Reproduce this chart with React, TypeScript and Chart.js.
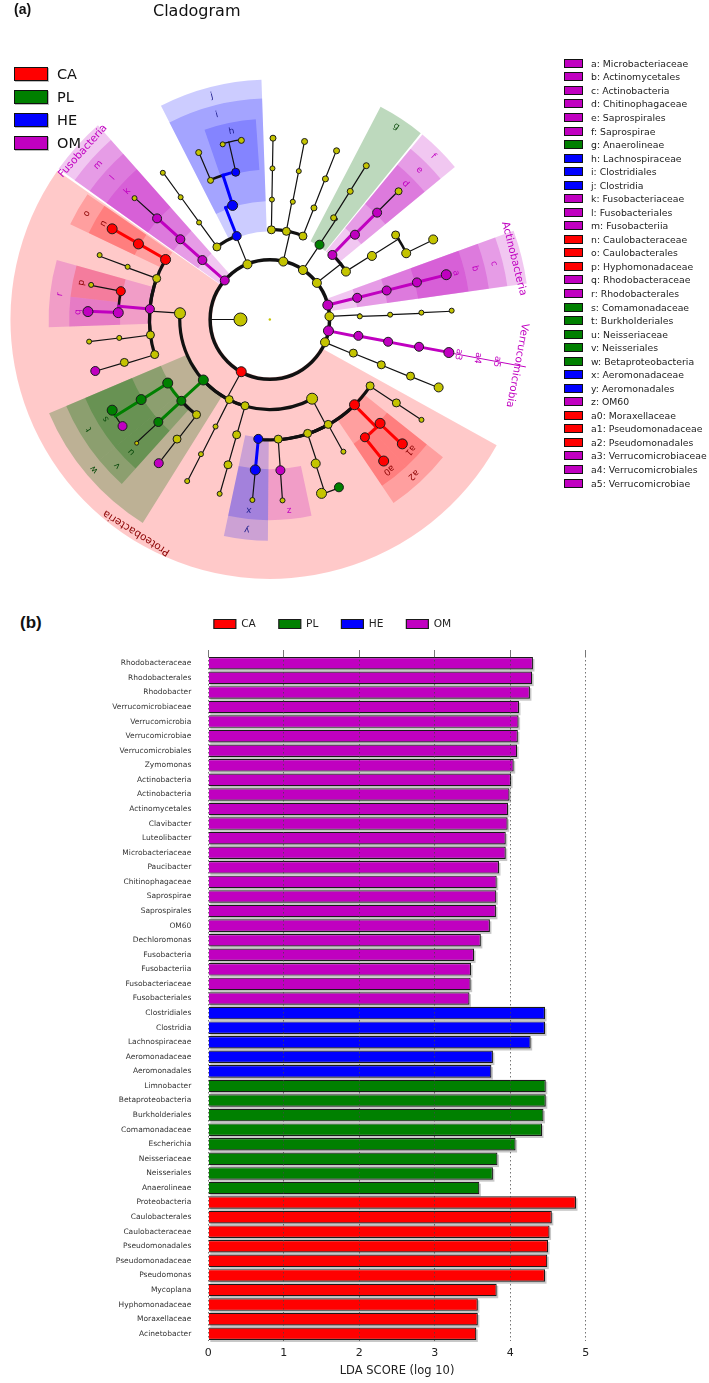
import React, { useEffect, useRef } from "react";
import { Chart, registerables } from "chart.js";

Chart.register(...registerables);

const FONT = "'DejaVu Sans', 'Liberation Sans', sans-serif";

// ---------------- panel (b): LDA scores ----------------
const groupNames = ["CA", "PL", "HE", "OM"];
const groupColors = ["#ff0000", "#008000", "#0000ff", "#c000c0"];

const omTaxa = [
  "Rhodobacteraceae", "Rhodobacterales", "Rhodobacter", "Verrucomicrobiaceae",
  "Verrucomicrobia", "Verrucomicrobiae", "Verrucomicrobiales", "Zymomonas",
  "Actinobacteria", "Actinobacteria", "Actinomycetales", "Clavibacter",
  "Luteolibacter", "Microbacteriaceae", "Paucibacter", "Chitinophagaceae",
  "Saprospirae", "Saprospirales", "OM60", "Dechloromonas", "Fusobacteria",
  "Fusobacteriia", "Fusobacteriaceae", "Fusobacteriales",
];
const omScores = [
  4.30, 4.29, 4.26, 4.115, 4.11, 4.10, 4.09, 4.045, 4.01, 3.99, 3.97, 3.965,
  3.94, 3.94, 3.85, 3.82, 3.815, 3.81, 3.73, 3.61, 3.52, 3.48, 3.475, 3.46,
];
const heTaxa = ["Clostridiales", "Clostridia", "Lachnospiraceae", "Aeromonadaceae", "Aeromonadales"];
const heScores = [4.46, 4.46, 4.27, 3.77, 3.75];
const plTaxa = [
  "Limnobacter", "Betaproteobacteria", "Burkholderiales", "Comamonadaceae",
  "Escherichia", "Neisseriaceae", "Neisseriales", "Anaerolineae",
];
const plScores = [4.47, 4.47, 4.44, 4.42, 4.07, 3.83, 3.77, 3.59];
const caTaxa = [
  "Proteobacteria", "Caulobacterales", "Caulobacteraceae", "Pseudomonadales",
  "Pseudomonadaceae", "Pseudomonas", "Mycoplana", "Hyphomonadaceae",
  "Moraxellaceae", "Acinetobacter",
];
const caScores = [4.87, 4.55, 4.52, 4.50, 4.49, 4.46, 3.82, 3.57, 3.57, 3.55];
const ldaMin = 0;
const ldaMax = 5;
const ldaStep = 1;

// ---------------- panel (a): cladogram ----------------
// radius of each taxonomic level (root, kingdom, phylum, class, order, family, genus)
const levelRadius = [0, 30, 61, 92, 123, 155, 186];
const wedgeOuterRadius = [0, 0, 265, 245, 226, 205, 190];
const labelRadius = [0, 0, 257, 236, 216, 196, 180];

// [id, parent, level, angle (deg, clockwise from east), group, node size]
const cladeNodes: [string, string, number, number, string, number][] = [
  ["root", "", 0, 0, "", 1.2],
  ["Bacteria", "root", 1, 180, "", 6.5],
  ["Proteobacteria", "Bacteria", 2, 118.6, "CA", 5],
  ["Fusobacteria", "Bacteria", 2, 221, "OM", 4.5],
  ["Firmicutes", "Bacteria", 2, 248, "", 4.5],
  ["phylumA", "Bacteria", 2, 283, "", 4.5],
  ["Chloroflexi", "Bacteria", 2, 303.7, "", 4.5],
  ["Bacteroidetes", "Bacteria", 2, 322, "", 4.5],
  ["Actinobacteria", "Bacteria", 2, 346, "OM", 5],
  ["phylumB", "Bacteria", 2, 357, "", 4.5],
  ["Verrucomicrobia", "Bacteria", 2, 11, "OM", 5],
  ["phylumC", "Bacteria", 2, 22.5, "", 4.5],

  ["Alphaproteobacteria", "Proteobacteria", 3, 184, "", 5.5],
  ["Betaproteobacteria", "Proteobacteria", 3, 137.6, "PL", 5],
  ["Deltaproteobacteria", "Proteobacteria", 3, 116.8, "", 4],
  ["classE", "Proteobacteria", 3, 106, "", 4],
  ["Gammaproteobacteria", "Proteobacteria", 3, 62, "", 5.5],
  ["Fusobacteriia", "Fusobacteria", 3, 221.5, "OM", 4.5],
  ["Bacilli", "Firmicutes", 3, 234, "", 4],
  ["Clostridia", "Firmicutes", 3, 248.4, "HE", 4.5],
  ["classA1", "phylumA", 3, 271, "", 4],
  ["classA2", "phylumA", 3, 280.6, "", 4],
  ["classA3", "phylumA", 3, 291.6, "", 4],
  ["Anaerolineae", "Chloroflexi", 3, 303.5, "PL", 4.5],
  ["Saprospirae", "Bacteroidetes", 3, 314, "OM", 4.5],
  ["classB2", "Bacteroidetes", 3, 327.7, "", 4.5],
  ["Actinobacteria_c", "Actinobacteria", 3, 346, "OM", 4.5],
  ["classPB", "phylumB", 3, 358, "", 2.5],
  ["Verrucomicrobiae", "Verrucomicrobia", 3, 10.5, "OM", 4.5],
  ["classPC", "phylumC", 3, 22, "", 4],

  ["Caulobacterales", "Alphaproteobacteria", 4, 210, "CA", 5],
  ["orderA2", "Alphaproteobacteria", 4, 200, "", 4],
  ["Rhodobacterales", "Alphaproteobacteria", 4, 185, "OM", 4.5],
  ["orderA4", "Alphaproteobacteria", 4, 172.6, "", 4],
  ["orderA5", "Alphaproteobacteria", 4, 163, "", 4],
  ["Burkholderiales", "Betaproteobacteria", 4, 148, "PL", 5],
  ["Neisseriales", "Betaproteobacteria", 4, 137.3, "PL", 4.5],
  ["orderB3", "Betaproteobacteria", 4, 127.5, "", 4],
  ["orderD", "Deltaproteobacteria", 4, 116.8, "", 2.5],
  ["orderE", "classE", 4, 106, "", 4],
  ["Aeromonadales", "Gammaproteobacteria", 4, 95.5, "HE", 4.5],
  ["orderG2", "Gammaproteobacteria", 4, 86, "", 4],
  ["orderG3", "Gammaproteobacteria", 4, 71.7, "", 4],
  ["orderG4", "Gammaproteobacteria", 4, 61, "", 4],
  ["Pseudomonadales", "Gammaproteobacteria", 4, 45.3, "CA", 5],
  ["orderG6", "Gammaproteobacteria", 4, 33.6, "", 4],
  ["Fusobacteriales", "Fusobacteriia", 4, 222, "OM", 4.5],
  ["orderBa", "Bacilli", 4, 234, "", 2.5],
  ["Clostridiales", "Clostridia", 4, 252, "HE", 5],
  ["orderA1", "classA1", 4, 271, "", 2.5],
  ["orderA2x", "classA2", 4, 281, "", 2.5],
  ["orderA3", "classA3", 4, 291.5, "", 3],
  ["orderAn", "Anaerolineae", 4, 302, "", 3],
  ["Saprospirales", "Saprospirae", 4, 315, "OM", 4.5],
  ["orderB2", "classB2", 4, 328, "", 4.5],
  ["Actinomycetales", "Actinobacteria_c", 4, 346, "OM", 4.5],
  ["orderPB", "classPB", 4, 357.7, "", 2.5],
  ["Verrucomicrobiales", "Verrucomicrobiae", 4, 10.7, "OM", 4.5],
  ["orderPC", "classPC", 4, 22.2, "", 4],

  ["Caulobacteraceae", "Caulobacterales", 5, 210, "CA", 5],
  ["familyA2", "orderA2", 5, 200.4, "", 2.5],
  ["Hyphomonadaceae", "Rhodobacterales", 5, 190.8, "CA", 4.5],
  ["Rhodobacteraceae", "Rhodobacterales", 5, 182.6, "OM", 5],
  ["familyA4", "orderA4", 5, 173, "", 2.5],
  ["familyA5", "orderA5", 5, 163.5, "", 4],
  ["Comamonadaceae", "Burkholderiales", 5, 148, "PL", 5],
  ["Neisseriaceae", "Neisseriales", 5, 137.3, "PL", 4.5],
  ["familyB3", "orderB3", 5, 127.7, "", 4],
  ["familyD", "orderD", 5, 117, "", 2.5],
  ["familyE", "orderE", 5, 106, "", 4],
  ["Aeromonadaceae", "Aeromonadales", 5, 95.5, "HE", 5],
  ["OM60", "orderG2", 5, 86, "OM", 4.5],
  ["familyG3", "orderG3", 5, 72.4, "", 4.5],
  ["familyG4", "orderG4", 5, 61, "", 2.5],
  ["Moraxellaceae", "Pseudomonadales", 5, 51.2, "CA", 4.5],
  ["Pseudomonadaceae", "Pseudomonadales", 5, 43.4, "CA", 5],
  ["familyG6", "orderG6", 5, 33.5, "", 4],
  ["Fusobacteriaceae", "Fusobacteriales", 5, 222, "OM", 4.5],
  ["familyBa", "orderBa", 5, 234, "", 2.5],
  ["familyCl2", "Clostridiales", 5, 247, "", 3],
  ["Lachnospiraceae", "Clostridiales", 5, 257, "HE", 4],
  ["familyA1", "orderA1", 5, 271, "", 2.5],
  ["familyA2x", "orderA2x", 5, 281, "", 2.5],
  ["familyA3", "orderA3", 5, 291.5, "", 3],
  ["familyAn", "orderAn", 5, 302, "", 3],
  ["Chitinophagaceae", "Saprospirales", 5, 315, "OM", 4.5],
  ["familyB2a", "orderB2", 5, 326, "", 4],
  ["familyB2b", "orderB2", 5, 334, "", 4.5],
  ["Microbacteriaceae", "Actinomycetales", 5, 345.8, "OM", 4.5],
  ["familyPB", "orderPB", 5, 357.4, "", 2.5],
  ["Verrucomicrobiaceae", "Verrucomicrobiales", 5, 10.4, "OM", 4.5],
  ["familyPC", "orderPC", 5, 22, "", 4],

  ["Mycoplana", "Caulobacteraceae", 6, 210, "CA", 5],
  ["genusA2", "familyA2", 6, 200.8, "", 2.5],
  ["genusHy", "Hyphomonadaceae", 6, 191, "", 2.5],
  ["Rhodobacter", "Rhodobacteraceae", 6, 182.5, "OM", 5],
  ["genusA4", "familyA4", 6, 173, "", 2.5],
  ["Zymomonas", "familyA5", 6, 163.5, "OM", 4.5],
  ["Limnobacter", "Comamonadaceae", 6, 150, "PL", 5],
  ["Paucibacter", "Comamonadaceae", 6, 144, "OM", 4.5],
  ["genusNe", "Neisseriaceae", 6, 137, "", 2],
  ["Dechloromonas", "familyB3", 6, 127.6, "OM", 4.5],
  ["genusD", "familyD", 6, 117, "", 2.5],
  ["genusE", "familyE", 6, 106, "", 2.5],
  ["genusAe", "Aeromonadaceae", 6, 95.5, "", 2.5],
  ["genusOM", "OM60", 6, 86, "", 2.5],
  ["genusG3", "familyG3", 6, 73.5, "", 5],
  ["Escherichia", "familyG3", 6, 67.7, "PL", 4.5],
  ["Acinetobacter", "Moraxellaceae", 6, 51.3, "CA", 5],
  ["Pseudomonas", "Pseudomonadaceae", 6, 43.3, "CA", 5],
  ["genusG6", "familyG6", 6, 33.6, "", 2.5],
  ["genusPC", "familyPC", 6, 22, "", 4.5],
  ["Luteolibacter", "Verrucomicrobiaceae", 6, 10.5, "OM", 5],
  ["genusPB", "familyPB", 6, 357.2, "", 2.5],
  ["Clavibacter", "Microbacteriaceae", 6, 345.7, "OM", 5],
  ["genusB2", "familyB2b", 6, 333.8, "", 4.5],
  ["genusCh", "Chitinophagaceae", 6, 315, "", 3.5],
  ["genusAn", "familyAn", 6, 302, "", 3],
  ["genusA3", "familyA3", 6, 291.5, "", 3],
  ["genusA2x", "familyA2x", 6, 281, "", 3],
  ["genusA1", "familyA1", 6, 271, "", 3],
  ["genusLa1", "Lachnospiraceae", 6, 255, "", 2.5],
  ["genusLa2", "Lachnospiraceae", 6, 261, "", 3],
  ["genusCl2", "familyCl2", 6, 247, "", 3],
  ["genusBa", "familyBa", 6, 234, "", 2.5],
  ["genusFu", "Fusobacteriaceae", 6, 222, "", 2.5],
];

// [node id, label, start angle, end angle]
const cladeWedges: [string, string, number, number][] = [
  ["Proteobacteria", "Proteobacteria", 29, 215],
  ["Fusobacteria", "Fusobacteria", 215.5, 228.5],
  ["Actinobacteria", "Actinobacteria", 340, 352],
  ["Verrucomicrobia", "Verrucomicrobia", 10.5, 10.5],
  ["Fusobacteriia", "m", 215.5, 228.5],
  ["Fusobacteriales", "l", 215.5, 228.5],
  ["Fusobacteriaceae", "k", 215.5, 228.5],
  ["Caulobacterales", "o", 205.5, 214.5],
  ["Caulobacteraceae", "n", 205.5, 214.5],
  ["Rhodobacterales", "r", 178, 195.6],
  ["Hyphomonadaceae", "p", 186.5, 195.6],
  ["Rhodobacteraceae", "q", 178, 186.5],
  ["Betaproteobacteria", "w", 122, 157],
  ["Burkholderiales", "t", 140.5, 157],
  ["Comamonadaceae", "s", 140.5, 157],
  ["Neisseriales", "v", 132, 140.5],
  ["Neisseriaceae", "u", 132, 140.5],
  ["Aeromonadales", "y", 90.5, 102],
  ["Aeromonadaceae", "x", 90.5, 102],
  ["OM60", "z", 78, 90.5],
  ["Pseudomonadales", "a2", 38.5, 56],
  ["Pseudomonadaceae", "a1", 38.5, 47.3],
  ["Moraxellaceae", "a0", 47.3, 56],
  ["Actinobacteria_c", "c", 340, 352],
  ["Actinomycetales", "b", 340, 352],
  ["Microbacteriaceae", "a", 340, 352],
  ["Verrucomicrobiae", "a5", 10.5, 10.5],
  ["Verrucomicrobiales", "a4", 10.5, 10.5],
  ["Verrucomicrobiaceae", "a3", 10.5, 10.5],
  ["Saprospirae", "f", 309.5, 320.5],
  ["Saprospirales", "e", 309.5, 320.5],
  ["Chitinophagaceae", "d", 309.5, 320.5],
  ["Anaerolineae", "g", 297.5, 309],
  ["Clostridia", "j", 243, 268],
  ["Clostridiales", "i", 243, 268],
  ["Lachnospiraceae", "h", 251, 266],
];

// legend of the cladogram letters: [key, taxon, group]
const cladeKey: [string, string, string][] = [
  ["a", "Microbacteriaceae", "OM"], ["b", "Actinomycetales", "OM"],
  ["c", "Actinobacteria", "OM"], ["d", "Chitinophagaceae", "OM"],
  ["e", "Saprospirales", "OM"], ["f", "Saprospirae", "OM"],
  ["g", "Anaerolineae", "PL"], ["h", "Lachnospiraceae", "HE"],
  ["i", "Clostridiales", "HE"], ["j", "Clostridia", "HE"],
  ["k", "Fusobacteriaceae", "OM"], ["l", "Fusobacteriales", "OM"],
  ["m", "Fusobacteriia", "OM"], ["n", "Caulobacteraceae", "CA"],
  ["o", "Caulobacterales", "CA"], ["p", "Hyphomonadaceae", "CA"],
  ["q", "Rhodobacteraceae", "OM"], ["r", "Rhodobacterales", "OM"],
  ["s", "Comamonadaceae", "PL"], ["t", "Burkholderiales", "PL"],
  ["u", "Neisseriaceae", "PL"], ["v", "Neisseriales", "PL"],
  ["w", "Betaproteobacteria", "PL"], ["x", "Aeromonadaceae", "HE"],
  ["y", "Aeromonadales", "HE"], ["z", "OM60", "OM"],
  ["a0", "Moraxellaceae", "CA"], ["a1", "Pseudomonadaceae", "CA"],
  ["a2", "Pseudomonadales", "CA"], ["a3", "Verrucomicrobiaceae", "OM"],
  ["a4", "Verrucomicrobiales", "OM"], ["a5", "Verrucomicrobiae", "OM"],
];

const nodeColor: Record<string, string> = {
  CA: "#ff0000", PL: "#008000", HE: "#0000ff", OM: "#c000c0", "": "#c4c400",
};
const wedgeFill: Record<string, string> = {
  CA: "rgba(255,0,0,0.21)", PL: "rgba(0,110,0,0.26)", HE: "rgba(0,0,255,0.2)", OM: "rgba(192,0,192,0.22)", "": "rgba(0,0,0,0)",
};
const labelColor: Record<string, string> = {
  CA: "#8b0000", PL: "#0d4d0d", HE: "#1c1c8c", OM: "#c000c0", "": "#333",
};

const rad = (d: number) => (d * Math.PI) / 180;

const cladePlugin = {
  id: "cladeDecor",
  beforeDatasetsDraw(chart: any) {
    const { ctx } = chart;
    const sx = chart.scales.x;
    const sy = chart.scales.y;
    const cx = sx.getPixelForValue(0);
    const cy = sy.getPixelForValue(0);
    const k = sx.getPixelForValue(1) - cx;
    const byId = new Map(cladeNodes.map((n) => [n[0], n]));
    ctx.save();
    // highlighted clades
    const sorted = [...cladeWedges].sort((a, b) => byId.get(a[0])![2] - byId.get(b[0])![2]);
    for (const [id, , s, e] of sorted) {
      const n = byId.get(id)!;
      if (s === e) {
        if (n[2] === 2) {
          ctx.strokeStyle = nodeColor[n[4]];
          ctx.lineWidth = 1;
          ctx.beginPath();
          ctx.moveTo(cx + 191 * k * Math.cos(rad(s)), cy + 191 * k * Math.sin(rad(s)));
          ctx.lineTo(cx + 266 * k * Math.cos(rad(s)), cy + 266 * k * Math.sin(rad(s)));
          ctx.stroke();
        }
        continue;
      }
      const inner = (levelRadius[n[2]] - 2) * k;
      const outer = wedgeOuterRadius[n[2]] * k;
      ctx.beginPath();
      ctx.arc(cx, cy, outer, rad(s), rad(e));
      ctx.arc(cx, cy, inner, rad(e), rad(s), true);
      ctx.closePath();
      ctx.fillStyle = wedgeFill[n[4]];
      ctx.fill();
    }
    // branches
    const kids = new Map<string, typeof cladeNodes>();
    for (const n of cladeNodes) {
      if (!n[1]) continue;
      if (!kids.has(n[1])) kids.set(n[1], []);
      kids.get(n[1])!.push(n);
    }
    const segs: { color: string; width: number; draw: () => void; z: number }[] = [];
    kids.forEach((list, pid) => {
      const p = byId.get(pid)!;
      if (p[2] === 0) return;
      const rp = levelRadius[p[2]] * k;
      const rc = levelRadius[p[2] + 1] * k;
      const same = p[4] !== "" && list.some((c) => c[4] === p[4]);
      const ap = rad(p[3]);
      segs.push({
        color: same ? nodeColor[p[4]] : "#111",
        width: same ? 3 : 1.2,
        z: same ? 1 : 0,
        draw: () => {
          ctx.moveTo(cx + rp * Math.cos(ap), cy + rp * Math.sin(ap));
          ctx.lineTo(cx + rc * Math.cos(ap), cy + rc * Math.sin(ap));
        },
      });
      if (p[2] === 1) {
        segs.push({ color: "#111", width: 3.5, z: 0, draw: () => { ctx.moveTo(cx + rc, cy); ctx.arc(cx, cy, rc, 0, Math.PI * 2); } });
        return;
      }
      const arcW = [0, 0, 3.5, 3.2, 3.2, 2.6, 1.3][p[2] + 1];
      for (const c of list) {
        const delta = ((c[3] - p[3] + 540) % 360) - 180;
        if (Math.abs(delta) < 0.01) continue;
        const col = p[4] !== "" && c[4] === p[4];
        segs.push({
          color: col ? nodeColor[p[4]] : "#111",
          width: col ? 3 : arcW,
          z: col ? 1 : 0,
          draw: () => {
            ctx.moveTo(cx + rc * Math.cos(ap), cy + rc * Math.sin(ap));
            ctx.arc(cx, cy, rc, ap, ap + rad(delta), delta < 0);
          },
        });
      }
    });
    segs.sort((a, b) => a.z - b.z);
    ctx.lineCap = "round";
    for (const s of segs) {
      ctx.beginPath();
      ctx.strokeStyle = s.color;
      ctx.lineWidth = s.width;
      s.draw();
      ctx.stroke();
    }
    ctx.restore();
  },
  afterDatasetsDraw(chart: any) {
    const { ctx } = chart;
    const sx = chart.scales.x;
    const sy = chart.scales.y;
    const cx = sx.getPixelForValue(0);
    const cy = sy.getPixelForValue(0);
    const k = sx.getPixelForValue(1) - cx;
    const byId = new Map(cladeNodes.map((n) => [n[0], n]));
    ctx.save();
    ctx.textAlign = "center";
    ctx.textBaseline = "middle";
    for (const [id, label, s, e] of cladeWedges) {
      const n = byId.get(id)!;
      const mid = (s + e) / 2;
      const r = labelRadius[n[2]] * k;
      ctx.save();
      ctx.translate(cx + r * Math.cos(rad(mid)), cy + r * Math.sin(rad(mid)));
      ctx.rotate(rad(mid + 90));
      ctx.fillStyle = labelColor[n[4]];
      ctx.font = n[2] === 2 ? `10.5px ${FONT}` : `9px ${FONT}`;
      ctx.fillText(label, 0, 0);
      ctx.restore();
    }
    ctx.restore();
  },
};

const barShadowPlugin = {
  id: "barShadow",
  beforeDatasetsDraw(chart: any) {
    const { ctx } = chart;
    ctx.save();
    ctx.fillStyle = "rgba(0,0,0,0.22)";
    chart.data.datasets.forEach((ds: any, di: number) => {
      const meta = chart.getDatasetMeta(di);
      meta.data.forEach((el: any, i: number) => {
        if (ds.data[i] == null) return;
        const { x, y, base, height } = el.getProps(["x", "y", "base", "height"], true);
        ctx.fillRect(base + 1.5, y - height / 2 + 2, x - base, height);
      });
    });
    ctx.restore();
  },
};

function Cladogram() {
  const ref = useRef<HTMLCanvasElement>(null);
  useEffect(() => {
    const pts = cladeNodes.map((n) => {
      const r = levelRadius[n[2]];
      return { x: r * Math.cos(rad(n[3])), y: r * Math.sin(rad(n[3])) };
    });
    const chart = new Chart(ref.current!, {
      type: "scatter",
      data: {
        datasets: [
          {
            data: pts,
            pointRadius: cladeNodes.map((n) => n[5]),
            pointBackgroundColor: cladeNodes.map((n) => nodeColor[n[4]]),
            pointBorderColor: cladeNodes.map((n) => (n[0] === "root" ? "rgba(0,0,0,0)" : "#1a1a1a")),
            pointBorderWidth: 1,
          },
        ],
      },
      options: {
        responsive: false,
        animation: false,
        events: [],
        layout: { padding: 0 },
        plugins: { legend: { display: false }, tooltip: { enabled: false } },
        scales: {
          x: { type: "linear", min: -268, max: 441, display: false },
          y: { type: "linear", min: -320, max: 280, reverse: true, display: false },
        },
      },
      plugins: [cladePlugin],
    } as any);
    return () => chart.destroy();
  }, []);
  return (
    <canvas
      ref={ref}
      width={709}
      height={600}
      style={{ position: "absolute", left: 0, top: 0, width: 709, height: 600 }}
    />
  );
}

function LdaBars() {
  const ref = useRef<HTMLCanvasElement>(null);
  useEffect(() => {
    const labels = [...omTaxa, ...heTaxa, ...plTaxa, ...caTaxa];
    const blocks: Record<string, { taxa: string[]; scores: number[]; offset: number }> = {
      OM: { taxa: omTaxa, scores: omScores, offset: 0 },
      HE: { taxa: heTaxa, scores: heScores, offset: omTaxa.length },
      PL: { taxa: plTaxa, scores: plScores, offset: omTaxa.length + heTaxa.length },
      CA: { taxa: caTaxa, scores: caScores, offset: omTaxa.length + heTaxa.length + plTaxa.length },
    };
    const datasets = groupNames.map((g, gi) => {
      const b = blocks[g];
      return {
        label: g,
        data: labels.map((_, i) => {
          const j = i - b.offset;
          return j >= 0 && j < b.scores.length ? b.scores[j] : null;
        }),
        backgroundColor: groupColors[gi],
        borderColor: "#1a1a1a",
        borderWidth: 1.2,
        grouped: false,
        categoryPercentage: 1,
        barPercentage: 0.86,
      };
    });
    const chart = new Chart(ref.current!, {
      type: "bar",
      data: { labels, datasets },
      options: {
        indexAxis: "y",
        responsive: false,
        animation: false,
        events: [],
        layout: { padding: { top: 5.7, right: 44, bottom: 0, left: 0 } },
        plugins: {
          tooltip: { enabled: false },
          legend: {
            display: true,
            position: "top",
            labels: {
              boxWidth: 22,
              boxHeight: 9,
              padding: 23,
              color: "#222",
              font: { family: FONT, size: 10.6 },
            },
          },
        },
        scales: {
          y: {
            type: "category",
            position: "left",
            grid: { display: false },
            border: { display: false },
            ticks: { autoSkip: false, color: "#333", padding: 9, font: { family: FONT, size: 7.5 } },
            afterFit: (s: any) => { s.width = 208.3; },
          },
          x: {
            type: "linear",
            position: "bottom",
            min: ldaMin,
            max: ldaMax,
            grid: { color: "rgba(70,70,70,0.75)", lineWidth: 1, drawTicks: false, z: 1 },
            border: { display: false, dash: [1.5, 2.5] },
            ticks: { stepSize: ldaStep, padding: 6, color: "#222", font: { family: FONT, size: 11 } },
            title: {
              display: true,
              text: "LDA SCORE (log 10)",
              color: "#222",
              font: { family: FONT, size: 11.5 },
              padding: { top: 2, bottom: 5 },
            },
            afterFit: (s: any) => { s.height = 42; },
          },
          xTop: {
            type: "linear",
            position: "top",
            min: ldaMin,
            max: ldaMax,
            grid: { drawOnChartArea: false, drawTicks: true, tickLength: 6, tickColor: "#777", tickWidth: 1 },
            border: { display: false },
            ticks: { stepSize: ldaStep, display: false },
            afterFit: (s: any) => { s.height = 16.7; },
          },
          yRight: {
            type: "linear",
            position: "right",
            grid: { display: false },
            border: { display: false },
            ticks: { display: false },
            afterFit: (s: any) => { s.width = 79.2; },
          },
        },
      },
      plugins: [barShadowPlugin],
    } as any);
    return () => chart.destroy();
  }, []);
  return (
    <canvas
      ref={ref}
      width={709}
      height={793}
      style={{ position: "absolute", left: 0, top: 590, width: 709, height: 793 }}
    />
  );
}

export default function App() {
  return (
    <div style={{ position: "absolute", left: 0, top: 0, width: 709, height: 1383, background: "#fff", fontFamily: FONT, overflow: "hidden" }}>
      <Cladogram />
      <div style={{ position: "absolute", left: 14, top: 1, font: `bold 14px 'Liberation Sans', sans-serif`, color: "#111" }}>(a)</div>
      <div style={{ position: "absolute", left: 153, top: 3, fontSize: 16, lineHeight: "16px", color: "#111" }}>Cladogram</div>
      {groupNames.map((g, i) => (
        <div key={g} style={{ position: "absolute", left: 14, top: 67 + i * 23, height: 14, display: "flex", alignItems: "center" }}>
          <span style={{ display: "inline-block", width: 32, height: 12, background: groupColors[i], border: "1px solid #111", boxShadow: "1px 1px 0 #bbb" }} />
          <span style={{ marginLeft: 9, fontSize: 14.5, color: "#111" }}>{g}</span>
        </div>
      ))}
      {cladeKey.map(([key, name, grp], i) => (
        <div key={key} style={{ position: "absolute", left: 564, top: 63.3 + i * 13.54 - 6, height: 12, display: "flex", alignItems: "center", whiteSpace: "nowrap" }}>
          <span style={{ display: "inline-block", width: 17, height: 7, background: nodeColor[grp], border: "1.2px solid #111" }} />
          <span style={{ marginLeft: 8, fontSize: 9.3, color: "#222" }}>{key}: {name}</span>
        </div>
      ))}
      <div style={{ position: "absolute", left: 20, top: 613, font: `bold 17px 'Liberation Sans', sans-serif`, color: "#111" }}>(b)</div>
      <LdaBars />
    </div>
  );
}
